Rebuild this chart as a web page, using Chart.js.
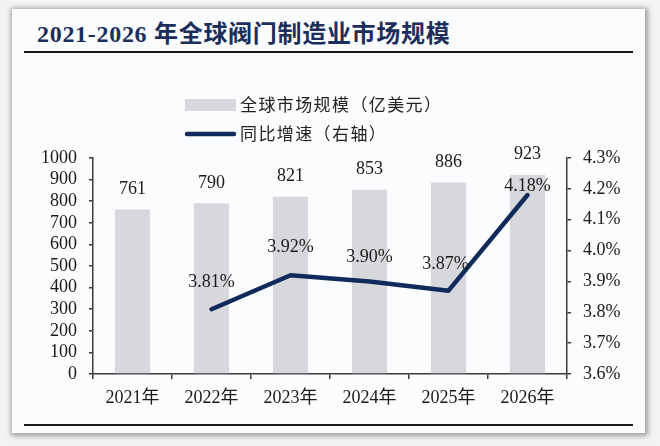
<!DOCTYPE html>
<html>
<head>
<meta charset="utf-8">
<script src="https://cdn.jsdelivr.net/npm/chart.js@4/dist/chart.umd.min.js"></script>
<style>
  html, body { margin:0; padding:0; width:660px; height:446px; background:#f3f3f3; overflow:hidden; }
  #card { position:absolute; left:12px; top:9px; width:633px; height:424px; background:#fbfcfe;
          box-shadow: 1px 1px 5px 2px rgba(0,0,0,0.35); }
  #title { position:absolute; left:37px; top:14px; font-family:"Liberation Serif","Noto Sans CJK SC",serif;
           font-weight:bold; font-size:24px; color:#1c2f5c; white-space:nowrap; letter-spacing:0.7px; }
  .rule { position:absolute; left:24px; width:609px; height:2px; background:#1a1a1a; }
  #chartwrap { position:absolute; left:0; top:0; width:660px; height:446px; }
</style>
</head>
<body>
<div id="card"></div>
<div id="title">2021-2026 年全球阀门制造业市场规模</div>
<div class="rule" style="top:51px"></div>
<div class="rule" style="top:424px"></div>
<div id="chartwrap"><canvas id="c" width="660" height="446"></canvas></div>
<script>
const categories = ['2021年','2022年','2023年','2024年','2025年','2026年'];
const marketSize = [761, 790, 821, 853, 886, 923];
const growthRate = [null, 3.81, 3.92, 3.90, 3.87, 4.18];
const leftTicks = [0,100,200,300,400,500,600,700,800,900,1000];
const rightTicks = [3.6,3.7,3.8,3.9,4.0,4.1,4.2,4.3];
const seriesNames = ['全球市场规模（亿美元）','同比增速（右轴）'];

const BAR_COLOR = '#d7d8db';
const LINE_COLOR = '#102b5b';
const AXIS_COLOR = '#3a3a3a';
const SERIF = '"Liberation Serif","Noto Sans CJK SC",serif';

const labelPlugin = {
  id: 'labelsAndLegend',
  afterDatasetsDraw(chart) {
    const ctx = chart.ctx;
    ctx.save();
    ctx.fillStyle = '#1a1a1a';
    ctx.font = '18px ' + SERIF;
    ctx.textAlign = 'center';
    ctx.textBaseline = 'middle';
    const barMeta = chart.getDatasetMeta(0);
    barMeta.data.forEach((el, i) => {
      ctx.fillText(String(marketSize[i]), el.x, el.y - 20);
    });
    const lineMeta = chart.getDatasetMeta(1);
    const offs = [0, 27, 28, 24, 26, 9];
    const dx = [0, 0, 0, 0, -3, 0];
    lineMeta.data.forEach((el, i) => {
      if (growthRate[i] == null) return;
      ctx.fillText(growthRate[i].toFixed(2) + '%', el.x + dx[i], el.y - offs[i]);
    });
    ctx.textAlign = 'left';
    ctx.font = '17px "Noto Sans CJK SC",sans-serif';
    ctx.letterSpacing = '1.4px';
    ctx.fillStyle = BAR_COLOR;
    ctx.fillRect(185, 99, 51, 12);
    ctx.fillStyle = '#222';
    ctx.fillText(chart.data.datasets[0].label, 240, 105);
    ctx.strokeStyle = LINE_COLOR;
    ctx.lineWidth = 4.5;
    ctx.lineCap = 'round';
    ctx.beginPath(); ctx.moveTo(187, 134); ctx.lineTo(234, 134); ctx.stroke();
    ctx.fillText(chart.data.datasets[1].label, 240, 134);
    ctx.restore();
  }
};

new Chart(document.getElementById('c'), {
  type: 'bar',
  data: {
    labels: categories,
    datasets: [
      { type:'bar', label: seriesNames[0], data: marketSize, backgroundColor: BAR_COLOR,
        yAxisID:'y', order:1, barPercentage:0.445, categoryPercentage:1 },
      { type:'line', label: seriesNames[1], data: growthRate, borderColor: LINE_COLOR,
        borderWidth:4.5, pointRadius:0, tension:0, yAxisID:'y1', order:0,
        borderCapStyle:'round', borderJoinStyle:'round', spanGaps:false }
    ]
  },
  options: {
    responsive:false, animation:false,
    layout: { padding: { top:158, left:0, right:0, bottom:0 } },
    plugins: { legend:{ display:false }, tooltip:{ enabled:false } },
    scales: {
      x: {
        grid: { offset:true, drawOnChartArea:false, drawTicks:true, tickLength:5, color:AXIS_COLOR, lineWidth:1.5 },
        border: { color:AXIS_COLOR, width:1.5 },
        ticks: { color:'#1a1a1a', font:{ family:SERIF, size:18 }, padding:8, autoSkip:false, maxRotation:0 },
        afterFit(s) { s.height = 72; }
      },
      y: {
        position:'left', min:0, max:1000,
        afterBuildTicks(s) { s.ticks = leftTicks.map(v => ({ value:v })); },
        grid: { drawOnChartArea:false, drawTicks:true, tickLength:4, color:AXIS_COLOR, lineWidth:1.5 },
        border: { color:AXIS_COLOR, width:1.5 },
        ticks: { color:'#1a1a1a', font:{ family:SERIF, size:18 }, padding:12, autoSkip:false,
                 callback: v => String(v) },
        afterFit(s) { s.width = 93; }
      },
      y1: {
        position:'right', min:3.6, max:4.3,
        afterBuildTicks(s) { s.ticks = rightTicks.map(v => ({ value:v })); },
        grid: { drawOnChartArea:false, drawTicks:true, tickLength:4, color:AXIS_COLOR, lineWidth:1.5 },
        border: { color:AXIS_COLOR, width:1.5 },
        ticks: { color:'#1a1a1a', font:{ family:SERIF, size:18 }, padding:12, autoSkip:false,
                 callback: v => Number(v).toFixed(1) + '%' },
        afterFit(s) { s.width = 93; }
      }
    }
  },
  plugins: [labelPlugin]
});
</script>
</body>
</html>
